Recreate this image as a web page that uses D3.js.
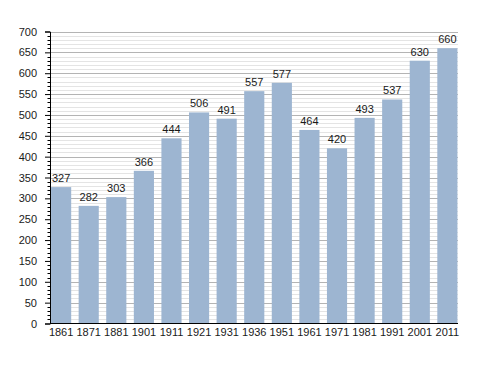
<!DOCTYPE html>
<html><head><meta charset="utf-8">
<script src="https://cdn.jsdelivr.net/npm/d3@7"></script>
<style>body{margin:0;background:#fff}svg{display:block}text{font-family:"Liberation Sans",Arial,sans-serif;}</style>
</head><body>
<svg id="c" width="488" height="373"></svg>
<script>
const years = ["1861","1871","1881","1901","1911","1921","1931","1936","1951","1961","1971","1981","1991","2001","2011"];
const population = [327,282,303,366,444,506,491,557,577,464,420,493,537,630,660];
const yMajorTicks = [0,50,100,150,200,250,300,350,400,450,500,550,600,650,700];

const svg = d3.select("#c");
const x = d3.scaleBand().domain(years).range([50.5,458]).paddingInner(0.27).paddingOuter(0.02);
const y = d3.scaleLinear().domain([0,700]).range([323.5,31.5]);
const minor = d3.range(0,701,10).filter(v=>v%50!==0);

const g = svg.append("g");
g.selectAll("line.minor").data(minor).enter().append("line")
  .attr("x1",50).attr("x2",458).attr("y1",d=>Math.round(y(d))+0.5).attr("y2",d=>Math.round(y(d))+0.5)
  .attr("stroke","#e4e4e4").attr("stroke-width",1);
g.selectAll("line.major").data(yMajorTicks.filter(d=>d>0)).enter().append("line")
  .attr("x1",50).attr("x2",458).attr("y1",d=>Math.round(y(d))+0.5).attr("y2",d=>Math.round(y(d))+0.5)
  .attr("stroke","#b4b4b4").attr("stroke-width",1);

svg.selectAll("rect.bar").data(population).enter().append("rect")
  .attr("x",(d,i)=>x(years[i])).attr("width",x.bandwidth())
  .attr("y",d=>y(d)).attr("height",d=>y(0)-y(d))
  .attr("fill","#9db5d1");

svg.selectAll("text.val").data(population).enter().append("text")
  .attr("x",(d,i)=>x(years[i])+x.bandwidth()/2).attr("y",d=>y(d)-5)
  .attr("text-anchor","middle").attr("font-size",11).attr("fill","#1a1a1a")
  .text(d=>d);

// y axis
const ya = svg.append("g").attr("transform","translate(50,0)");
ya.call(d3.axisLeft(y).tickValues(yMajorTicks).tickSize(5).tickPadding(8).tickFormat(d3.format("d")));
ya.selectAll("text").attr("font-size",11).attr("fill","#1a1a1a").style("font-family",'"Liberation Sans",Arial,sans-serif');
ya.select(".domain").attr("stroke","#000");
ya.selectAll(".tick line").attr("stroke","#000");
ya.selectAll("line.mt").data(minor).enter().append("line")
  .attr("x1",-2.5).attr("x2",0).attr("y1",d=>Math.round(y(d))+0.5).attr("y2",d=>Math.round(y(d))+0.5)
  .attr("stroke","#000");

// x axis
const xa = svg.append("g").attr("transform","translate(0,323.5)");
xa.call(d3.axisBottom(x).tickSize(0).tickPadding(5));
xa.select(".domain").attr("stroke","#000").attr("d","M50,0H458");
xa.selectAll("text").attr("font-size",11).attr("fill","#1a1a1a").style("font-family",'"Liberation Sans",Arial,sans-serif');
</script>
</body></html>
